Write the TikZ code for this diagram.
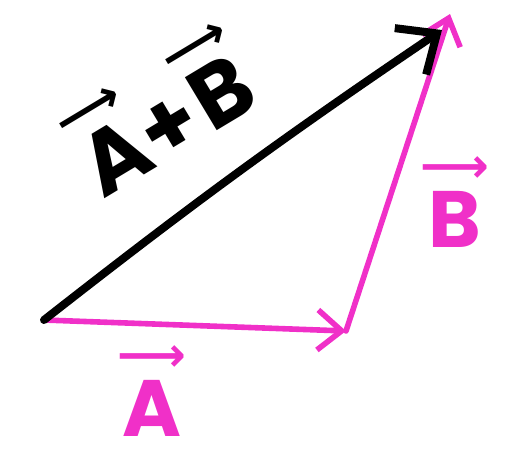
\documentclass[tikz,border=0pt]{standalone}
\usepackage{fontspec}
\setmainfont{Poppins}
\newfontfamily\arrowfont{DejaVu Sans}
\usetikzlibrary{arrows.meta}
\definecolor{vecpink}{RGB}{240, 48, 200}
% letter with a vector arrow set above it
\newcommand{\vlab}[1]{\shortstack{{\arrowfont\fontsize{24}{24}\selectfont\char"27F6}\\[1pt]#1}}
\tikzset{
  pinkvec/.style={vecpink, line width=2.8pt, line cap=round, -{Straight Barb[length=12pt, width=20pt]}},
  sumvec/.style={black, line width=4pt, line cap=round, -{Straight Barb[length=16pt, width=28pt]}},
  veclabel/.style={inner sep=0pt, font=\fontsize{40}{40}\selectfont\bfseries}
}

\begin{document}
\begin{tikzpicture}[x=0.5pt, y=-0.5pt]
\useasboundingbox (0,0) rectangle (514,461);
% points of the triangle
\coordinate (O) at (44,320);
\coordinate (P) at (346,331);
\coordinate (Q) at (450,14);
\coordinate (S) at (442,30);
% vector A and vector B
\draw[pinkvec] (O) -- (P);
\draw[pinkvec] (P) -- (Q);
% the sum
\draw[sumvec] (O) to[bend left=2] (S);
% labels
\node[veclabel, vecpink] (labA) at (152,391) {\vlab{A}};
\node[veclabel, vecpink] (labB) at (455,202) {\vlab{B}};
\node[veclabel, black, rotate=31, font=\fontsize{44}{44}\selectfont\bfseries] (labS) at (160,110) {\vlab{A}+\vlab{B}};
\end{tikzpicture}
\end{document}
